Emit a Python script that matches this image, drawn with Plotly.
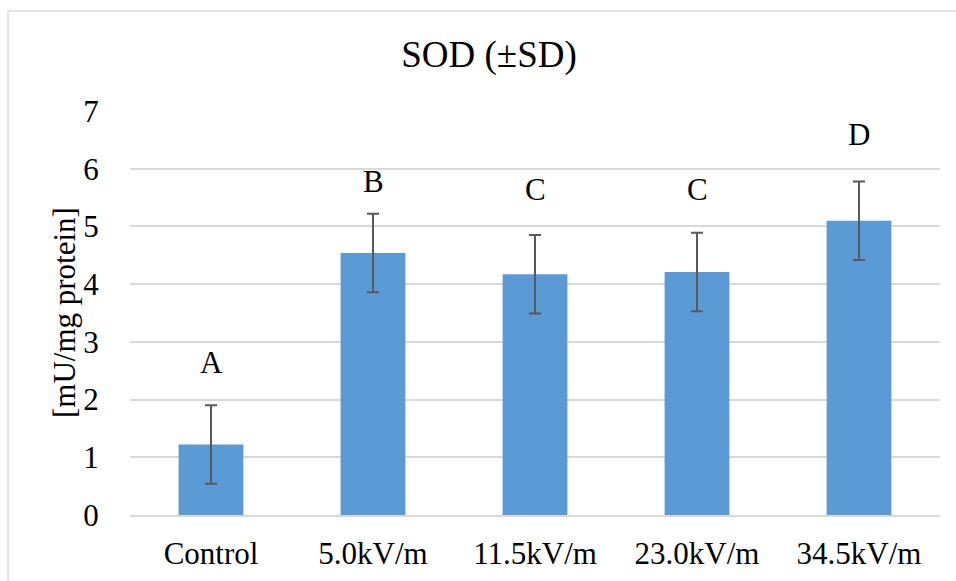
import plotly.graph_objects as go

# SOD activity per exposure group
categories = ["Control", "5.0kV/m", "11.5kV/m", "23.0kV/m", "34.5kV/m"]
sod_mean = [1.22, 4.54, 4.17, 4.21, 5.10]
sod_sd = [0.68, 0.68, 0.68, 0.68, 0.68]
group_letters = ["A", "B", "C", "C", "D"]
letter_heights = [2.65, 5.78, 5.64, 5.64, 6.6]

FONT = "Liberation Serif"
GRID = "#D9D9D9"

fig = go.Figure()
fig.add_trace(go.Bar(
    x=categories,
    y=sod_mean,
    marker=dict(color="#5B9BD5", line=dict(width=0)),
    error_y=dict(type="data", array=sod_sd, visible=True,
                 color="#595959", thickness=2, width=6),
    width=0.4,
    showlegend=False,
))

for cat, letter, h in zip(categories, group_letters, letter_heights):
    fig.add_annotation(x=cat, y=h, xref="x", yref="y", text=letter,
                       showarrow=False, yanchor="middle",
                       font=dict(family=FONT, size=31, color="#000000"))

# y-axis title
fig.add_annotation(xref="paper", yref="paper", x=0, y=0.5, xshift=-66,
                   text="[mU/mg protein]", textangle=-90, showarrow=False,
                   xanchor="center", yanchor="middle",
                   font=dict(family=FONT, size=31, color="#000000"))

# chart frame
fig.add_shape(type="rect", xref="paper", yref="paper",
              x0=-0.1506, x1=1.2, y0=-0.3, y1=1.2473,
              line=dict(color=GRID, width=1.5), layer="below")

fig.update_layout(
    width=956, height=581,
    margin=dict(l=130, r=16, t=111, b=66, pad=0, autoexpand=False),
    paper_bgcolor="white", plot_bgcolor="white",
    font=dict(family=FONT, size=31, color="#000000"),
    title=dict(text="SOD (±SD)", x=0.5115, xref="container", xanchor="center",
               y=0.907, yref="container", yanchor="middle",
               font=dict(family=FONT, size=37, color="#000000")),
    bargap=0.6,
)
fig.update_yaxes(range=[0, 7], dtick=1, showgrid=True, gridcolor=GRID,
                 gridwidth=1.5, zeroline=False, showline=False, automargin=False,
                 ticks="outside", ticklen=24, tickcolor="rgba(0,0,0,0)",
                 tickfont=dict(family=FONT, size=31, color="#000000"))
fig.update_xaxes(showgrid=False, showline=True, linecolor=GRID, linewidth=1.5,
                 automargin=False,
                 ticks="outside", ticklen=10, tickcolor="rgba(0,0,0,0)",
                 tickfont=dict(family=FONT, size=31, color="#000000"))

fig.write_html("out.html")
